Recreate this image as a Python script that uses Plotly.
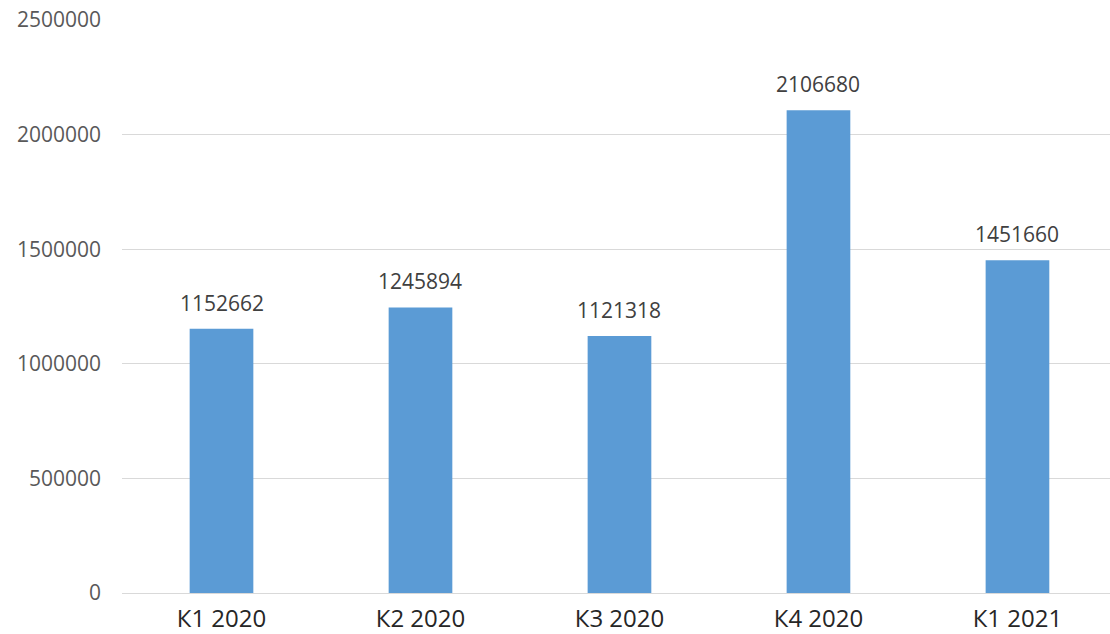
import plotly.graph_objects as go

categories = ["К1 2020", "К2 2020", "К3 2020", "К4 2020", "К1 2021"]
values = [1152662, 1245894, 1121318, 2106680, 1451660]
y_ticks = [0, 500000, 1000000, 1500000, 2000000, 2500000]

fig = go.Figure()
fig.add_trace(go.Bar(
    x=categories, y=values,
    marker=dict(color="#5B9BD5", line=dict(width=0)),
    width=0.32,
))

for c, v in zip(categories, values):
    fig.add_annotation(
        x=c, y=v, text=str(v), showarrow=False,
        yanchor="bottom", yshift=10,
        font=dict(family="Open Sans", size=21, color="#404040"),
    )

fig.update_layout(
    width=1110, height=634,
    margin=dict(l=122, r=0, t=20, b=41),
    plot_bgcolor="white", paper_bgcolor="white",
    showlegend=False,
    xaxis=dict(
        range=[-0.5, 4.465],
        showgrid=False,
        showline=True, linecolor="#d9d9d9", linewidth=1,
        ticks="",
        tickfont=dict(family="Open Sans", size=24, color="#262626"),
        ticklabelstandoff=4,
        automargin=False,
    ),
    yaxis=dict(
        range=[0, 2500000],
        tickvals=y_ticks,
        ticktext=[str(t) for t in y_ticks],
        showgrid=True, gridcolor="#d9d9d9", gridwidth=1,
        zeroline=True, zerolinecolor="#d9d9d9", zerolinewidth=1,
        ticks="",
        tickfont=dict(family="Open Sans", size=21, color="#595959"),
        ticklabelstandoff=20,
        automargin=False,
    ),
)

fig.write_html("out.html")
